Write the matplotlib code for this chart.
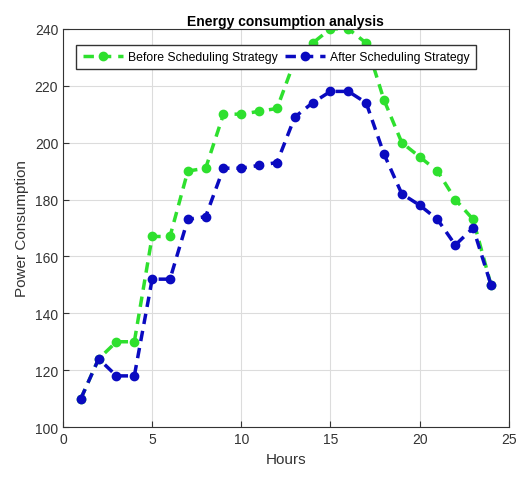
import matplotlib
matplotlib.use("Agg")
import matplotlib.pyplot as plt

hours = list(range(1, 25))
before = [110, 124, 130, 130, 167, 167, 190, 191, 210, 210, 211, 212,
          229, 235, 240, 240, 235, 215, 200, 195, 190, 180, 173, 150]
after = [110, 124, 118, 118, 152, 152, 173, 174, 191, 191, 192, 193,
         209, 214, 218, 218, 214, 196, 182, 178, 173, 164, 170, 150]

plt.rcParams['font.family'] = ['Liberation Sans', 'DejaVu Sans']
fig = plt.figure(figsize=(5.22, 4.81), dpi=100)
ax = fig.add_axes([0.1207, 0.110, 0.854, 0.828])

ax.plot(hours, before, '--o', color='#2ee02e', lw=2.5, ms=5, mew=2,
        label='Before Scheduling Strategy', dashes=(3, 2))
ax.plot(hours, after, '--o', color='#0a0ac0', lw=2.5, ms=5, mew=2,
        label='After Scheduling Strategy', dashes=(3, 2))

ax.set_xlim(0, 25)
ax.set_ylim(100, 240)
ax.set_xticks([0, 5, 10, 15, 20, 25])
ax.set_yticks(range(100, 241, 20))
ax.grid(True, color='#dcdcdc', lw=0.8)
ax.tick_params(direction='in', labelsize=10, colors='#333333', length=4)
for s in ax.spines.values():
    s.set_color('#333333')
ax.set_xlabel('Hours', fontsize=11, color='#333333')
ax.set_ylabel('Power Consumption', fontsize=11, color='#333333')
ax.set_title('Energy consumption analysis', fontsize=10, fontweight='bold', pad=3)
leg = ax.legend(loc='upper center', ncol=2, fontsize=8.8, frameon=True, fancybox=False,
                edgecolor='#333333', framealpha=1, bbox_to_anchor=(0.478, 0.975),
                handlelength=3.3, columnspacing=0.6, handletextpad=0.4, borderpad=0.5)
leg.get_frame().set_linewidth(1)

fig.savefig('out.png', dpi=100)
